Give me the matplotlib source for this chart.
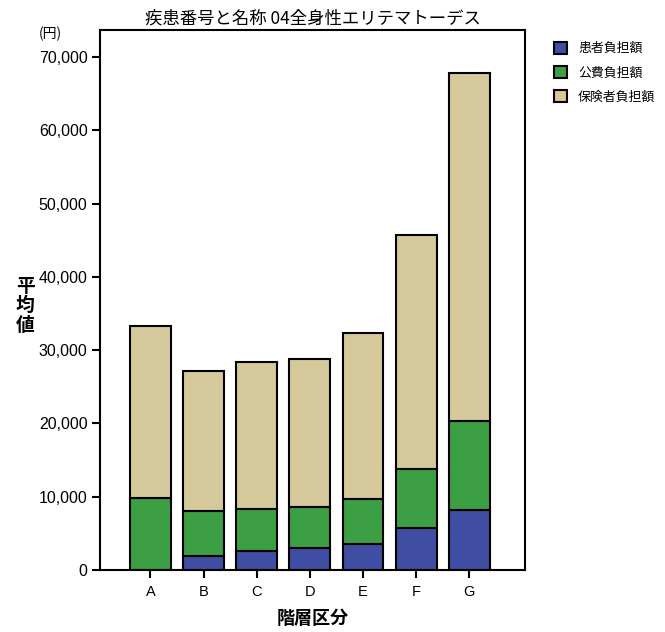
import matplotlib
matplotlib.use("Agg")
import matplotlib.pyplot as plt
import numpy as np

plt.rcParams['font.family'] = ['Liberation Sans', 'Noto Sans CJK JP', 'DejaVu Sans']

categories = ['A', 'B', 'C', 'D', 'E', 'F', 'G']
patient = [0, 1870, 2590, 2960, 3550, 5730, 8190]
public_ = [9860, 6220, 5690, 5630, 6180, 8000, 12140]
totals = [33290, 27100, 28330, 28790, 32370, 45700, 67760]
insurer = [t - p - q for t, p, q in zip(totals, patient, public_)]
series_names = ['患者負担額', '公費負担額', '保険者負担額']
colors = ['#3f4ea3', '#3c9f44', '#d5c99c']
yticks = [0, 10000, 20000, 30000, 40000, 50000, 60000, 70000]

fig = plt.figure(figsize=(6.65, 6.32), dpi=100)
ax = fig.add_axes([0.1504, 0.0981, 0.6391, 0.8544])
x = np.arange(len(categories))
w = 0.77
b1 = ax.bar(x, patient, w, color=colors[0], edgecolor='black', linewidth=1.5, label=series_names[0])
b2 = ax.bar(x, public_, w, bottom=patient, color=colors[1], edgecolor='black', linewidth=1.5, label=series_names[1])
bot3 = [p + q for p, q in zip(patient, public_)]
b3 = ax.bar(x, insurer, w, bottom=bot3, color=colors[2], edgecolor='black', linewidth=1.5, label=series_names[2])

ax.set_xlim(-0.95, 7.05)
ax.set_ylim(0, 73680)
ax.set_xticks(x)
ax.set_xticklabels(categories, fontsize=10.5)
ax.set_yticks(yticks)
ax.set_yticklabels([f'{v:,}' for v in yticks], fontsize=11.5)
ax.tick_params(axis='both', direction='out', length=6, width=1.5, colors='black')
ax.tick_params(axis='x', pad=5)
ax.tick_params(axis='y', pad=3)
for s in ax.spines.values():
    s.set_linewidth(1.5)

ax.set_title('疾患番号と名称 04全身性エリテマトーデス', fontsize=12.5,
             family=['Noto Sans CJK JP'], pad=5)
fig.text(0.038, 0.516, '平\n均\n値', fontsize=13.5, fontweight='bold',
         family=['Noto Sans CJK JP'], ha='center', va='center', linespacing=1.05)
fig.text(0.075, 0.946, '(円)', fontsize=10, family=['Noto Sans CJK JP'],
         ha='center', va='center')
ax.set_xlabel('階層区分', fontsize=13, fontweight='bold', family=['Noto Sans CJK JP'], labelpad=7)

leg = fig.legend(handles=[b1, b2, b3], loc='upper left', bbox_to_anchor=(0.815, 0.952),
                 frameon=False, prop={'family': ['Noto Sans CJK JP'], 'size': 9.3},
                 handlelength=1.0, handleheight=1.0, labelspacing=0.85, handletextpad=0.9)

fig.savefig('out.png', dpi=100)
